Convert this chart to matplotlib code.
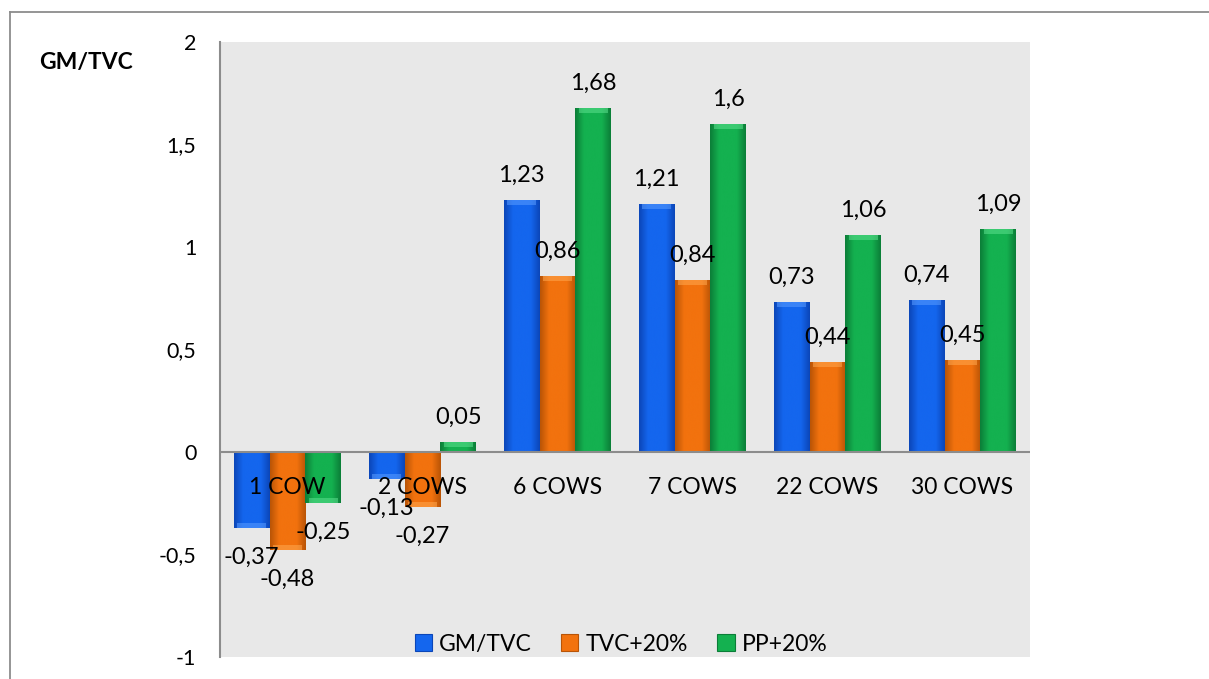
import numpy as np
import matplotlib
matplotlib.use("Agg")
import matplotlib.pyplot as plt
from matplotlib.colors import LinearSegmentedColormap
from matplotlib.lines import Line2D
from matplotlib.patches import Rectangle

plt.rcParams['font.family'] = ['Lato', 'DejaVu Sans']

categories = ["1 COW", "2 COWS", "6 COWS", "7 COWS", "22 COWS", "30 COWS"]
series_names = ["GM/TVC", "TVC+20%", "PP+20%"]
gm_tvc = [-0.37, -0.13, 1.23, 1.21, 0.73, 0.74]
tvc_20 = [-0.48, -0.27, 0.86, 0.84, 0.44, 0.45]
pp_20 = [-0.25, 0.05, 1.68, 1.60, 1.06, 1.09]
y_ticks = [-1, -0.5, 0, 0.5, 1, 1.5, 2]

series = [gm_tvc, tvc_20, pp_20]
base_colors = ["#1466EE", "#F2720E", "#14B150"]
dark_colors = ["#0B46B8", "#B95406", "#0B7E38"]
light_colors = ["#5A9CFF", "#FFA850", "#5CE08E"]

W, H = 1209, 679
fig = plt.figure(figsize=(W / 100, H / 100), dpi=100)
fig.patch.set_facecolor("white")

# outer frame (top and left edges only, the rest runs off the canvas)
fig.add_artist(Line2D([10 / W, 1], [1 - 12 / H, 1 - 12 / H], color="#8c8c8c", lw=1.3))
fig.add_artist(Line2D([10 / W, 10 / W], [0, 1 - 12 / H], color="#8c8c8c", lw=1.3))

ax = fig.add_axes([220 / W, 1 - 657 / H, 810 / W, 615 / H])
ax.set_facecolor("#E8E8E8")
ax.set_xlim(-0.5, len(categories) - 0.5)
ax.set_ylim(-1, 2)
ax.set_yticks(y_ticks)
ax.set_yticklabels([f"{t:g}".replace(".", ",") for t in y_ticks], fontsize=15.5)
ax.tick_params(axis="y", length=0, pad=17)
ax.set_xticks([])
for side in ["top", "right", "bottom"]:
    ax.spines[side].set_visible(False)
ax.spines["left"].set_color("#8c8c8c")
ax.spines["left"].set_linewidth(1.5)

x = np.arange(len(categories))
bw = 0.265

for i, (vals, c, dc, lc) in enumerate(zip(series, base_colors, dark_colors, light_colors)):
    xs = x + (i - 1) * bw
    bars = ax.bar(xs, vals, width=bw, color=c, edgecolor="none", zorder=2)
    cmap = LinearSegmentedColormap.from_list(f"g{i}", [dc, c, c, c, dc])
    grad = np.linspace(0, 1, 64).reshape(1, -1)
    for b, v in zip(bars, vals):
        x0, w = b.get_x(), b.get_width()
        y0, h = b.get_y(), b.get_height()
        im = ax.imshow(grad, cmap=cmap, aspect="auto", zorder=2.1,
                       extent=[x0, x0 + w, y0, y0 + h], interpolation="bicubic")
        im.set_clip_path(b)
        # lighter cap at the end of the bar
        cap_y = v - 0.025 if v > 0 else v
        ax.add_patch(Rectangle((x0 + w * 0.1, cap_y), w * 0.8, 0.025,
                               facecolor=lc, edgecolor="none", alpha=0.55, zorder=2.2))
        label = f"{v:g}".replace(".", ",")
        if v >= 0:
            ax.annotate(label, (x0 + w / 2, v), xytext=(0, 13), textcoords="offset points",
                        ha="center", va="baseline", fontsize=17, zorder=5)
        else:
            ax.annotate(label, (x0 + w / 2, v), xytext=(0, -13.5), textcoords="offset points",
                        ha="center", va="top", fontsize=17, zorder=5)

ax.set_xlim(-0.5, len(categories) - 0.5)
ax.set_ylim(-1, 2)

ax.axhline(0, color="#8c8c8c", lw=1.5, zorder=3)

for xi, cat in zip(x, categories):
    ax.annotate(cat, (xi, 0), xytext=(0, -25.5), textcoords="offset points",
                ha="center", va="center", fontsize=16.5, zorder=5)

ax.text(-0.165, 0.967, "GM/TVC", transform=ax.transAxes, ha="center", va="center",
        fontsize=16.5, fontweight="bold")

handles = [Rectangle((0, 0), 1, 1, facecolor=c, edgecolor=dc, lw=0.8)
           for c, dc in zip(base_colors, dark_colors)]
ax.legend(handles, series_names, loc="lower center", bbox_to_anchor=(0.495, -0.03),
          ncol=3, frameon=False, fontsize=16.5, handlelength=0.75, handleheight=0.75,
          handletextpad=0.3, columnspacing=1.3)

fig.savefig("out.png", dpi=100, facecolor="white")
